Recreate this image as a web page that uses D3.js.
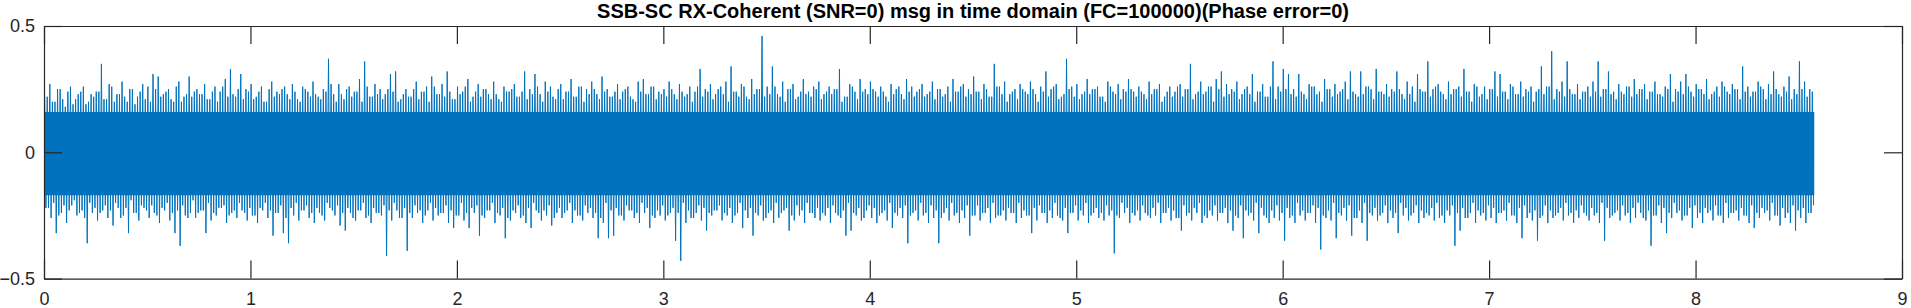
<!DOCTYPE html>
<html>
<head>
<meta charset="utf-8">
<script src="https://cdn.jsdelivr.net/npm/d3@7"></script>
<style>
  body { margin: 0; background: #fff; }
  svg { display: block; }
</style>
</head>
<body>
<div id="chart"></div>
<script>
// Title and tick labels
const title = "SSB-SC RX-Coherent (SNR=0) msg in time domain (FC=100000)(Phase error=0)";
const xTicks = [0, 1, 2, 3, 4, 5, 6, 7, 8, 9];
const yTicks = [-0.5, 0, 0.5];

// Signal length (s) and width of each envelope bin (s)
const tEnd = 8.575;
const binWidth = 0.025;

// Highest spike in each bin
const peakHigh = [
  .22,.27,.20,.25,.18,.26,.21,.24,.19,.23,
  .24,.35,.21,.26,.23,.28,.20,.25,.22,.27,
  .26,.31,.30,.23,.25,.20,.28,.22,.30,.24,
  .23,.27,.21,.26,.24,.29,.33,.22,.31,.25,
  .27,.22,.26,.20,.28,.24,.25,.23,.27,.21,
  .26,.24,.28,.22,.25,.37,.23,.27,.21,.26,
  .24,.29,.36,.22,.27,.25,.23,.31,.32,.21,
  .25,.22,.28,.24,.26,.30,.23,.27,.32,.21,
  .26,.24,.29,.22,.27,.25,.23,.28,.21,.26,
  .24,.27,.22,.32,.25,.31,.23,.28,.26,.21,
  .27,.24,.29,.22,.26,.25,.28,.23,.30,.25,
  .22,.27,.24,.26,.21,.28,.29,.23,.26,.24,
  .25,.28,.23,.27,.22,.26,.24,.33,.25,.27,
  .23,.26,.28,.34,.24,.27,.22,.29,.25,.46,
  .26,.34,.23,.28,.25,.27,.22,.29,.24,.26,
  .28,.23,.26,.25,.33,.22,.27,.24,.29,.25,
  .28,.24,.26,.22,.27,.25,.23,.29,.26,.24,
  .27,.23,.28,.25,.22,.26,.29,.24,.27,.25,
  .30,.24,.27,.22,.35,.26,.28,.23,.25,.27,
  .24,.28,.23,.26,.32,.25,.27,.22,.37,.26,
  .27,.23,.29,.25,.26,.22,.28,.24,.27,.25,
  .29,.24,.26,.23,.28,.25,.27,.22,.26,.24,
  .27,.25,.35,.23,.28,.24,.26,.29,.32,.27,
  .25,.28,.23,.26,.31,.24,.27,.22,.36,.26,
  .33,.31,.25,.31,.23,.27,.26,.24,.29,.25,
  .27,.24,.28,.32,.23,.32,.26,.25,.33,.24,
  .27,.25,.32,.23,.28,.26,.31,.24,.36,.25,
  .27,.23,.28,.25,.26,.33,.24,.27,.22,.26,
  .25,.32,.31,.24,.27,.23,.28,.25,.26,.24,
  .34,.26,.40,.25,.28,.36,.23,.27,.24,.26,
  .28,.36,.25,.32,.24,.27,.23,.26,.29,.25,
  .27,.24,.28,.23,.26,.31,.25,.28,.31,.24,
  .27,.25,.29,.23,.26,.28,.24,.27,.25,.34,
  .26,.24,.28,.25,.27,.32,.23,.26,.30,.25,
  .36,.28,.25
];

// Lowest spike in each bin
const peakLow = [
  -.22,-.26,-.32,-.24,-.28,-.21,-.25,-.23,-.36,-.24,
  -.27,-.23,-.26,-.29,-.22,-.25,-.32,-.24,-.27,-.22,
  -.26,-.24,-.28,-.23,-.27,-.32,-.37,-.25,-.24,-.26,
  -.23,-.32,-.27,-.25,-.22,-.28,-.24,-.26,-.23,-.27,
  -.25,-.28,-.23,-.26,-.33,-.24,-.32,-.36,-.25,-.27,
  -.23,-.26,-.28,-.24,-.27,-.22,-.25,-.29,-.31,-.24,
  -.27,-.23,-.26,-.28,-.24,-.25,-.41,-.27,-.23,-.26,
  -.39,-.26,-.24,-.28,-.23,-.27,-.25,-.24,-.28,-.30,
  -.25,-.27,-.30,-.24,-.33,-.26,-.23,-.28,-.25,-.34,
  -.27,-.24,-.26,-.28,-.30,-.23,-.27,-.25,-.29,-.24,
  -.26,-.23,-.28,-.25,-.27,-.24,-.26,-.34,-.28,-.34,
  -.33,-.25,-.27,-.23,-.26,-.28,-.24,-.30,-.26,-.25,
  -.27,-.24,-.35,-.43,-.28,-.26,-.24,-.27,-.31,-.25,
  -.23,-.27,-.25,-.28,-.24,-.30,-.26,-.33,-.25,-.27,
  -.24,-.28,-.26,-.23,-.31,-.27,-.25,-.28,-.24,-.26,
  -.27,-.25,-.28,-.24,-.26,-.33,-.31,-.25,-.27,-.23,
  -.26,-.28,-.24,-.27,-.30,-.25,-.26,-.36,-.24,-.27,
  -.25,-.28,-.26,-.36,-.24,-.27,-.25,-.28,-.26,-.33,
  -.25,-.27,-.24,-.28,-.26,-.25,-.27,-.24,-.28,-.26,
  -.25,-.32,-.27,-.24,-.28,-.26,-.25,-.27,-.32,-.24,
  -.27,-.25,-.28,-.24,-.26,-.27,-.25,-.40,-.26,-.24,
  -.28,-.25,-.27,-.24,-.26,-.25,-.28,-.24,-.27,-.26,
  -.31,-.25,-.27,-.24,-.28,-.26,-.25,-.27,-.24,-.28,
  -.31,-.26,-.34,-.25,-.27,-.32,-.25,-.28,-.26,-.27,
  -.35,-.26,-.28,-.25,-.27,-.24,-.28,-.385,-.26,-.27,
  -.34,-.25,-.27,-.33,-.26,-.28,-.35,-.25,-.27,-.24,
  -.28,-.26,-.32,-.25,-.27,-.24,-.28,-.26,-.25,-.27,
  -.26,-.28,-.25,-.37,-.31,-.26,-.24,-.28,-.25,-.27,
  -.26,-.28,-.24,-.27,-.25,-.28,-.34,-.26,-.27,-.35,
  -.25,-.28,-.26,-.24,-.27,-.25,-.28,-.26,-.24,-.27,
  -.25,-.28,-.35,-.26,-.24,-.27,-.25,-.28,-.26,-.24,
  -.27,-.37,-.25,-.28,-.32,-.26,-.24,-.27,-.25,-.30,
  -.26,-.28,-.24,-.27,-.25,-.28,-.26,-.24,-.27,-.25,
  -.28,-.30,-.26,-.24,-.27,-.25,-.29,-.26,-.28,-.31,
  -.26,-.28,-.24
];

// Upper tips of the dense hair in each bin
const hairHigh = [
  .22,.20,.25,.21,.24,.19,.23,.26,.20,.22,
  .24,.21,.27,.20,.23,.22,.25,.19,.24,.21,
  .20,.25,.22,.24,.21,.26,.20,.23,.22,.25,
  .23,.21,.24,.20,.26,.22,.23,.25,.21,.24,
  .21,.24,.20,.25,.22,.23,.26,.21,.24,.20,
  .25,.22,.23,.21,.24,.27,.20,.23,.25,.22,
  .24,.20,.26,.22,.23,.21,.25,.24,.20,.23,
  .22,.25,.21,.24,.20,.26,.23,.22,.24,.21,
  .23,.26,.20,.24,.22,.25,.21,.23,.20,.24,
  .25,.22,.24,.21,.23,.26,.20,.24,.22,.25,
  .21,.24,.22,.26,.20,.23,.25,.21,.24,.22,
  .24,.21,.25,.22,.20,.24,.23,.26,.21,.23,
  .22,.25,.21,.24,.23,.20,.26,.22,.24,.21,
  .25,.23,.20,.24,.22,.26,.21,.23,.25,.22,
  .23,.26,.22,.20,.25,.21,.24,.23,.22,.25,
  .21,.24,.23,.25,.20,.22,.26,.21,.24,.23,
  .25,.22,.24,.20,.23,.26,.21,.24,.22,.25,
  .22,.24,.21,.25,.23,.20,.24,.26,.22,.23,
  .24,.21,.25,.22,.26,.23,.20,.24,.21,.25,
  .23,.25,.20,.24,.22,.26,.21,.23,.25,.22,
  .21,.24,.23,.25,.22,.20,.26,.23,.21,.24,
  .25,.22,.24,.21,.23,.25,.20,.24,.22,.26,
  .22,.25,.21,.24,.23,.26,.20,.25,.22,.23,
  .24,.21,.25,.23,.20,.24,.22,.26,.21,.24,
  .25,.23,.22,.24,.21,.26,.23,.20,.25,.22,
  .23,.25,.21,.24,.22,.23,.26,.21,.24,.23,
  .22,.24,.25,.21,.23,.20,.25,.24,.22,.26,
  .24,.21,.23,.25,.22,.24,.20,.26,.23,.21,
  .25,.22,.24,.21,.26,.23,.22,.24,.20,.25,
  .23,.26,.21,.24,.22,.25,.23,.21,.24,.22,
  .24,.22,.25,.23,.21,.24,.26,.22,.23,.25,
  .21,.24,.23,.22,.25,.20,.24,.23,.26,.22,
  .25,.23,.21,.24,.22,.26,.23,.25,.21,.24,
  .22,.24,.26,.21,.23,.25,.22,.24,.21,.23,
  .25,.22,.24
];

// Lower tips of the dense hair in each bin
const hairLow = [
  -.22,-.20,-.25,-.21,-.23,-.19,-.24,-.26,-.20,-.22,
  -.24,-.21,-.23,-.20,-.26,-.22,-.19,-.24,-.21,-.23,
  -.21,-.25,-.22,-.20,-.24,-.23,-.21,-.26,-.19,-.24,
  -.23,-.20,-.24,-.22,-.21,-.25,-.23,-.20,-.24,-.22,
  -.25,-.22,-.20,-.23,-.24,-.21,-.26,-.22,-.20,-.23,
  -.21,-.24,-.22,-.25,-.20,-.23,-.21,-.24,-.22,-.26,
  -.23,-.20,-.25,-.22,-.24,-.21,-.23,-.20,-.26,-.22,
  -.24,-.21,-.23,-.25,-.20,-.22,-.24,-.21,-.23,-.25,
  -.20,-.24,-.22,-.21,-.25,-.23,-.20,-.24,-.22,-.26,
  -.23,-.21,-.25,-.22,-.20,-.24,-.23,-.21,-.26,-.22,
  -.24,-.20,-.23,-.25,-.21,-.22,-.24,-.26,-.20,-.23,
  -.22,-.25,-.21,-.23,-.24,-.20,-.22,-.25,-.23,-.21,
  -.25,-.22,-.24,-.20,-.23,-.26,-.21,-.22,-.24,-.23,
  -.21,-.24,-.22,-.25,-.20,-.23,-.22,-.24,-.21,-.26,
  -.23,-.20,-.24,-.22,-.25,-.21,-.23,-.20,-.24,-.22,
  -.24,-.22,-.21,-.25,-.23,-.20,-.24,-.22,-.26,-.21,
  -.22,-.25,-.23,-.20,-.24,-.22,-.21,-.25,-.23,-.20,
  -.24,-.21,-.23,-.26,-.22,-.20,-.24,-.23,-.21,-.25,
  -.21,-.24,-.22,-.20,-.25,-.23,-.22,-.24,-.20,-.23,
  -.25,-.22,-.21,-.24,-.23,-.20,-.26,-.22,-.24,-.21,
  -.23,-.20,-.25,-.22,-.24,-.21,-.23,-.25,-.20,-.22,
  -.24,-.23,-.21,-.25,-.22,-.20,-.24,-.22,-.23,-.26,
  -.21,-.24,-.22,-.20,-.25,-.23,-.21,-.24,-.22,-.23,
  -.25,-.21,-.23,-.24,-.20,-.22,-.26,-.23,-.21,-.24,
  -.22,-.25,-.20,-.23,-.24,-.21,-.22,-.25,-.23,-.20,
  -.24,-.22,-.21,-.26,-.23,-.20,-.24,-.22,-.25,-.21,
  -.23,-.24,-.20,-.22,-.25,-.21,-.23,-.24,-.22,-.20,
  -.25,-.23,-.21,-.24,-.22,-.26,-.20,-.23,-.24,-.21,
  -.22,-.24,-.23,-.20,-.25,-.22,-.21,-.24,-.23,-.26,
  -.21,-.23,-.25,-.22,-.20,-.24,-.23,-.21,-.25,-.22,
  -.24,-.20,-.22,-.25,-.23,-.21,-.24,-.22,-.20,-.26,
  -.23,-.25,-.21,-.22,-.24,-.20,-.23,-.25,-.22,-.21,
  -.24,-.22,-.23,-.21,-.25,-.20,-.24,-.23,-.22,-.25,
  -.21,-.24,-.22,-.23,-.20,-.25,-.22,-.24,-.21,-.23,
  -.22,-.24,-.21
];

// Edge of the solid band, one value per second
const coreHigh = [0.16, 0.16, 0.16, 0.16, 0.16, 0.16, 0.16, 0.16, 0.16];
const coreLow = [-0.17, -0.17, -0.17, -0.17, -0.17, -0.17, -0.17, -0.17, -0.17];

const width = 1911;
const height = 308;
const plot = { left: 44, right: 1902, top: 26, bottom: 278.6 };
const ink = "#262626";
const lineColor = "#0072BD";
const fontFamily = "'Liberation Sans', Arial, sans-serif";

const svg = d3.select("#chart").append("svg")
    .attr("width", width)
    .attr("height", height)
    .attr("font-family", fontFamily);

const x = d3.scaleLinear().domain([0, 9]).range([plot.left, plot.right]);
const y = d3.scaleLinear().domain([-0.5, 0.5]).range([plot.bottom, plot.top]);

svg.append("clipPath").attr("id", "clip")
    .append("rect")
    .attr("x", plot.left).attr("y", plot.top)
    .attr("width", plot.right - plot.left)
    .attr("height", plot.bottom - plot.top);

const plotG = svg.append("g").attr("clip-path", "url(#clip)");

// Solid band
const core = coreHigh.map((hi, i) => ({ t: i, hi, lo: coreLow[i] }));
core.push({ t: tEnd, hi: coreHigh[coreHigh.length - 1], lo: coreLow[coreLow.length - 1] });

plotG.append("path")
    .datum(core)
    .attr("fill", lineColor)
    .attr("d", d3.area()
        .curve(d3.curveStepAfter)
        .x(d => x(d.t))
        .y0(d => y(d.lo))
        .y1(d => y(d.hi)));

// Signal trace: zigzag through the spikes of each bin
const nBins = Math.min(peakHigh.length, peakLow.length, hairHigh.length, hairLow.length);
const trace = [];
for (let i = 0; i < nBins; i++) {
    const t0 = i * binWidth;
    const w = Math.min(t0 + binWidth, tEnd) - t0;
    trace.push([t0 + w * 0.125, peakHigh[i]]);
    trace.push([t0 + w * 0.375, peakLow[i]]);
    trace.push([t0 + w * 0.625, hairHigh[i]]);
    trace.push([t0 + w * 0.875, hairLow[i]]);
}

plotG.append("path")
    .datum(trace)
    .attr("fill", "none")
    .attr("stroke", lineColor)
    .attr("stroke-width", 1)
    .attr("stroke-linejoin", "miter")
    .attr("d", d3.line().x(d => x(d[0])).y(d => y(d[1])));

// Axes (box with inward ticks, like MATLAB)
const tickLen = 18;
const fontSize = 18;

const xAxis = svg.append("g")
    .attr("transform", `translate(0, ${plot.bottom})`)
    .call(d3.axisBottom(x).tickValues(xTicks).tickFormat(d3.format("d"))
        .tickSizeInner(-tickLen).tickSizeOuter(0).tickPadding(13.6));

const xTop = svg.append("g")
    .attr("transform", `translate(0, ${plot.top})`)
    .call(d3.axisTop(x).tickValues(xTicks).tickFormat("")
        .tickSizeInner(-tickLen).tickSizeOuter(0));

const yAxis = svg.append("g")
    .attr("transform", `translate(${plot.left}, 0)`)
    .call(d3.axisLeft(y).tickValues(yTicks).tickFormat(d => d === 0 ? "0" : d3.format(".1f")(d))
        .tickSizeInner(-tickLen).tickSizeOuter(0).tickPadding(9));

const yRight = svg.append("g")
    .attr("transform", `translate(${plot.right}, 0)`)
    .call(d3.axisRight(y).tickValues(yTicks).tickFormat("")
        .tickSizeInner(-tickLen).tickSizeOuter(0));

[xAxis, xTop, yAxis, yRight].forEach(g => {
    g.select(".domain").attr("stroke", ink).attr("stroke-width", 1.2);
    g.selectAll(".tick line").attr("stroke", ink).attr("stroke-width", 1.2);
    g.selectAll(".tick text")
        .attr("fill", ink)
        .attr("font-size", fontSize)
        .attr("font-family", fontFamily);
});

// Title
svg.append("text")
    .attr("x", (plot.left + plot.right) / 2)
    .attr("y", 18)
    .attr("text-anchor", "middle")
    .attr("font-weight", "bold")
    .attr("font-size", 20)
    .attr("fill", "#000")
    .text(title);
</script>
</body>
</html>
